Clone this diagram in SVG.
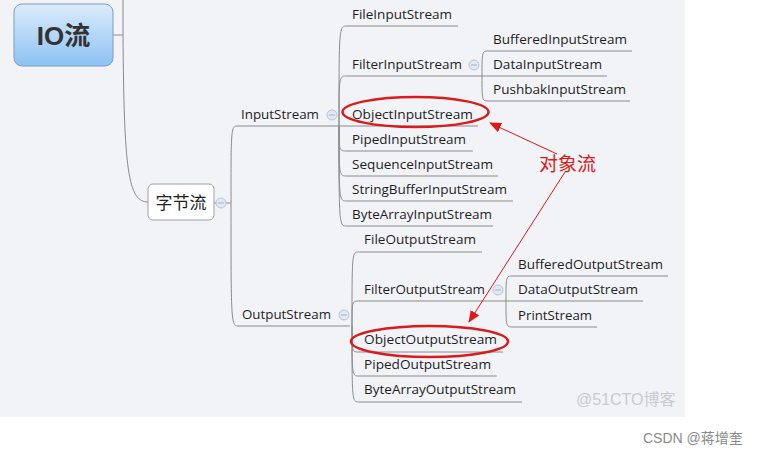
<svg xmlns="http://www.w3.org/2000/svg" width="758" height="454" viewBox="0 0 758 454">
<defs>
<linearGradient id="rootg" x1="0" y1="0" x2="0" y2="1">
<stop offset="0" stop-color="#dcecfb"/>
<stop offset="1" stop-color="#8cc2f4"/>
</linearGradient>
<marker id="ah" markerWidth="12" markerHeight="10" refX="11" refY="5" orient="auto" markerUnits="userSpaceOnUse">
<path d="M0,0 L12,5 L0,10 Z" fill="#e01818"/>
</marker>
<style>
.t{font-family:"Open Sans","Noto Sans",sans-serif;font-size:13.5px;fill:#1e1e1e}
.ln{fill:none;stroke:#8a8a8a;stroke-width:1}
.cc{fill:#e2e9f2;stroke:#b4c4d8;stroke-width:1}
.cm{stroke:#9fb2cc;stroke-width:1}
.el{fill:none;stroke:#d81c1c;stroke-width:2.5}
.ar{stroke:#e01818;stroke-width:1;fill:none}
</style>
</defs>
<rect x="0" y="0" width="758" height="454" fill="#ffffff"/>
<rect x="0" y="0" width="685" height="417" fill="#f2f3f7"/>

<g id="connectors">
<path class="ln" d="M113,35 L123,35 M123,0 L123,35 M123,35 C124,170 128,202 148,202"/>
<path class="ln" d="M214,203 L216,203 M226,203 L231,203 M231,203 C231,130 231,126 237,126 L338,126 M231,203 C231,320 231,326 238,326 L350,326"/>
<path class="ln" d="M339,126 C339,26 339,26 347,26 L458,26 M339,126 C339,76 339,76 347,76 L607,76 M339,126 L478,126 M339,126 C339,151 339,151 347,151 L473,151 M339,126 C339,176 339,176 347,176 L498,176 M339,126 C339,201 339,201 347,201 L513,201 M339,126 C339,226 339,226 347,226 L493,226"/>
<path class="ln" d="M482,76 C482,51 482,51 489,51 L632,51 M482,76 C482,101 482,101 489,101 L630,101"/>
<path class="ln" d="M352,326 C352,252 352,252 359,252 L482,252 M352,326 C352,301 352,301 359,301 L643,301 M352,326 C352,352 352,352 359,352 L503,352 M352,326 C352,376 352,376 359,376 L497,376 M352,326 C352,402 352,402 359,402 L522,402"/>
<path class="ln" d="M506,301 C506,276 506,276 513,276 L668,276 M506,301 C506,327 506,327 513,327 L597,327"/>
<line class="ar" x1="557" y1="154" x2="490" y2="123" marker-end="url(#ah)"/>
<line class="ar" x1="565" y1="172" x2="469" y2="322" marker-end="url(#ah)"/>
</g>

<g id="root">
<rect x="14" y="4" width="99" height="62" rx="8" fill="url(#rootg)" stroke="#7f9dbf" stroke-width="1"/>
<text x="63.5" y="45" text-anchor="middle" font-family="Liberation Sans,Noto Sans CJK SC,sans-serif" font-size="26" font-weight="bold" fill="#333">IO流</text>
</g>

<g id="zijieliu">
<rect x="148" y="184" width="66" height="36" rx="5" fill="#ffffff" stroke="#a0a0a0"/>
<text x="181" y="209" text-anchor="middle" font-family="Noto Sans CJK SC,sans-serif" font-size="17" fill="#222">字节流</text>
<circle class="cc" cx="221" cy="203" r="5"/><line class="cm" x1="218" y1="203" x2="224" y2="203"/>
</g>

<g id="inputstream">
<text class="t" x="241" y="119" textLength="78" lengthAdjust="spacingAndGlyphs">InputStream</text>
<circle class="cc" cx="332" cy="115" r="5"/><line class="cm" x1="329" y1="115" x2="335" y2="115"/>
</g>
<g id="fileinputstream"><text class="t" x="352" y="19" textLength="100" lengthAdjust="spacingAndGlyphs">FileInputStream</text></g>
<g id="filterinputstream">
<text class="t" x="352" y="69" textLength="110" lengthAdjust="spacingAndGlyphs">FilterInputStream</text>
<circle class="cc" cx="474" cy="65" r="5"/><line class="cm" x1="471" y1="65" x2="477" y2="65"/>
</g>
<g id="bufferedinputstream"><text class="t" x="493" y="44" textLength="134" lengthAdjust="spacingAndGlyphs">BufferedInputStream</text></g>
<g id="datainputstream"><text class="t" x="493" y="69" textLength="109" lengthAdjust="spacingAndGlyphs">DataInputStream</text></g>
<g id="pushbakinputstream"><text class="t" x="493" y="94" textLength="133" lengthAdjust="spacingAndGlyphs">PushbakInputStream</text></g>
<g id="objectinputstream">
<text class="t" x="352" y="119" textLength="121" lengthAdjust="spacingAndGlyphs">ObjectInputStream</text>
<ellipse class="el" cx="415.5" cy="112" rx="73" ry="15"/>
</g>
<g id="pipedinputstream"><text class="t" x="352" y="144" textLength="114" lengthAdjust="spacingAndGlyphs">PipedInputStream</text></g>
<g id="sequenceinputstream"><text class="t" x="352" y="169" textLength="141" lengthAdjust="spacingAndGlyphs">SequenceInputStream</text></g>
<g id="stringbufferinputstream"><text class="t" x="352" y="194" textLength="155" lengthAdjust="spacingAndGlyphs">StringBufferInputStream</text></g>
<g id="bytearrayinputstream"><text class="t" x="352" y="219" textLength="140" lengthAdjust="spacingAndGlyphs">ByteArrayInputStream</text></g>

<g id="outputstream">
<text class="t" x="242" y="319" textLength="89" lengthAdjust="spacingAndGlyphs">OutputStream</text>
<circle class="cc" cx="344" cy="315" r="5"/><line class="cm" x1="341" y1="315" x2="347" y2="315"/>
</g>
<g id="fileoutputstream"><text class="t" x="364" y="244" textLength="112" lengthAdjust="spacingAndGlyphs">FileOutputStream</text></g>
<g id="filteroutputstream">
<text class="t" x="364" y="294" textLength="121" lengthAdjust="spacingAndGlyphs">FilterOutputStream</text>
<circle class="cc" cx="498" cy="290" r="5"/><line class="cm" x1="495" y1="290" x2="501" y2="290"/>
</g>
<g id="bufferedoutputstream"><text class="t" x="518" y="269" textLength="145" lengthAdjust="spacingAndGlyphs">BufferedOutputStream</text></g>
<g id="dataoutputstream"><text class="t" x="518" y="294" textLength="120" lengthAdjust="spacingAndGlyphs">DataOutputStream</text></g>
<g id="printstream"><text class="t" x="518" y="320" textLength="74" lengthAdjust="spacingAndGlyphs">PrintStream</text></g>
<g id="objectoutputstream">
<text class="t" x="364" y="344" textLength="133" lengthAdjust="spacingAndGlyphs">ObjectOutputStream</text>
<ellipse class="el" cx="429.5" cy="341.5" rx="78.5" ry="15.5"/>
</g>
<g id="pipedoutputstream"><text class="t" x="364" y="369" textLength="127" lengthAdjust="spacingAndGlyphs">PipedOutputStream</text></g>
<g id="bytearrayoutputstream"><text class="t" x="364" y="394" textLength="152" lengthAdjust="spacingAndGlyphs">ByteArrayOutputStream</text></g>

<g id="duixiangliu">
<text x="539" y="171" font-family="Noto Sans CJK SC,sans-serif" font-size="19" fill="#e01818">对象流</text>
</g>

<text x="576" y="405" font-family="Liberation Sans,Noto Sans CJK SC,sans-serif" font-size="16" fill="#c8cace">@51CTO博客</text>
<text x="643" y="443" font-family="Liberation Sans,Noto Sans CJK SC,sans-serif" font-size="14" fill="#8a8a8a">CSDN @蒋增奎</text>
</svg>
